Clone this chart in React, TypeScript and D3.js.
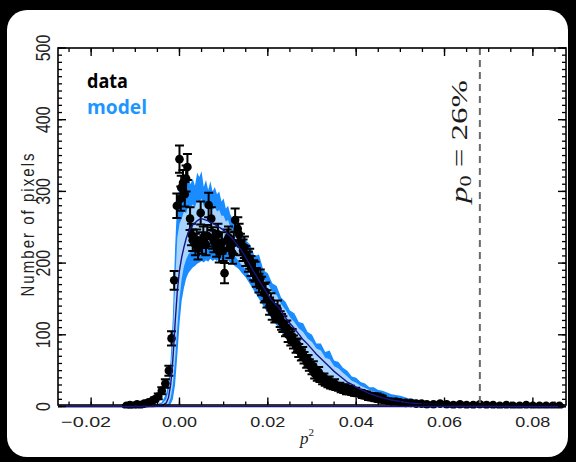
import React from 'react';
import * as d3 from 'd3';

const W = 576;
const H = 462;
const PL = 58, PR = 566, PT = 48, PB = 406.5;

const xDomain = [-0.0275, 0.0875];
const yDomain = [0, 500];
const xMajorTicks = [-0.02, 0, 0.02, 0.04, 0.06, 0.08];
const yMajorTicks = [0, 100, 200, 300, 400, 500];
const p0Value = 0.068;
const p0Label = '26%';

// observed histogram
const dataX = [
  -0.012, -0.0112, -0.0104, -0.0096, -0.0088, -0.008, -0.0072, -0.0064, -0.0056, -0.0048,
  -0.004, -0.0032, -0.0024, -0.0018, -0.0012, -0.0006, 0.0, 0.0004, 0.0008, 0.0012,
  0.0018, 0.0024, 0.003, 0.0036, 0.0042, 0.0048, 0.0054, 0.006, 0.0066, 0.0072,
  0.0078, 0.0084, 0.009, 0.0096, 0.0102, 0.0108, 0.0114, 0.012, 0.0126, 0.0132,
  0.0138, 0.0144, 0.015, 0.0156, 0.0162, 0.0168, 0.0174, 0.018, 0.0186, 0.0192,
  0.0198, 0.0204, 0.021, 0.0216, 0.0222, 0.0228, 0.0234, 0.024, 0.0246, 0.0252,
  0.0258, 0.0264, 0.027, 0.0276, 0.0282, 0.0288, 0.0294, 0.03, 0.0306, 0.0312,
  0.0318, 0.0324, 0.033, 0.0336, 0.0342, 0.0348, 0.0354, 0.036, 0.0366, 0.0372,
  0.0378, 0.0384, 0.039, 0.0396, 0.0402, 0.0408, 0.0414, 0.042, 0.0428, 0.0436,
  0.0444, 0.0452, 0.046, 0.047, 0.048, 0.049, 0.05, 0.0512, 0.0524, 0.0536,
  0.0548, 0.056, 0.0575, 0.059, 0.0605, 0.062, 0.0635, 0.065, 0.0665, 0.068,
  0.0695, 0.071, 0.0725, 0.074, 0.0755, 0.077, 0.0785, 0.08, 0.0815, 0.083,
  0.0845, 0.086,
  0.0003, 0.0015, 0.0027, 0.0039, 0.0051, 0.0063, 0.0075, 0.0087, 0.0099, 0.0111,
  0.0123, 0.0135, 0.0147, 0.0159, 0.0171, 0.0183, 0.0195, 0.0207, 0.0219, 0.0231,
  0.0243, 0.0255, 0.0267, 0.0279, 0.0291, 0.0303, 0.0315, 0.0327, 0.0339, 0.0351,
  0.0363, 0.0375, 0.0387, 0.0399, 0.0411, 0.0423, 0.0435, 0.0447, 0.0459,
];
const dataY = [
  1, 2, 1, 3, 2, 4, 5, 7, 10, 14,
  22, 32, 50, 95, 176, 280, 345, 305, 312, 296,
  334, 262, 232, 226, 220, 270, 236, 226, 281, 262,
  230, 224, 216, 228, 186, 232, 222, 214, 260, 248,
  226, 218, 210, 202, 196, 190, 180, 172, 168, 158,
  150, 140, 132, 128, 136, 122, 115, 108, 100, 95,
  90, 84, 78, 72, 68, 62, 58, 52, 46, 42,
  40, 37, 35, 33, 30, 29, 28, 27, 25, 24,
  22, 22, 20, 19, 19, 18, 16, 15, 13, 12,
  11, 10, 9, 8, 7, 7, 6, 5, 5, 4,
  4, 3, 3, 4, 3, 2, 3, 2, 2, 3,
  2, 2, 1, 2, 1, 1, 2, 1, 1, 1,
  1, 1,
  290, 318, 240, 232, 228, 238, 235, 240, 218, 236,
  228, 240, 222, 206, 188, 178, 160, 146, 130, 118,
  110, 98, 86, 74, 64, 56, 48, 40, 36, 32,
  28, 26, 24, 21, 19, 17, 15, 14, 12,
];
const dataErr = [
  1, 1, 1, 2, 1, 2, 2, 3, 3, 4,
  5, 6, 7, 10, 13, 17, 19, 17, 18, 17,
  18, 16, 15, 15, 15, 16, 15, 15, 17, 16,
  15, 15, 15, 15, 14, 15, 15, 15, 16, 16,
  15, 15, 14, 14, 14, 14, 13, 13, 13, 13,
  12, 12, 11, 11, 12, 11, 11, 10, 10, 10,
  9, 9, 9, 8, 8, 8, 8, 7, 7, 6,
  6, 6, 6, 6, 5, 5, 5, 5, 5, 5,
  5, 5, 4, 4, 4, 4, 4, 4, 4, 3,
  3, 3, 3, 3, 3, 3, 2, 2, 2, 2,
  2, 2, 2, 2, 2, 1, 2, 1, 1, 2,
  1, 1, 1, 1, 1, 1, 1, 1, 1, 1,
  1, 1,
  17, 18, 15, 15, 15, 15, 15, 15, 15, 15,
  15, 15, 15, 14, 14, 13, 13, 12, 11, 11,
  10, 10, 9, 9, 8, 7, 7, 6, 6, 6,
  5, 5, 5, 5, 4, 4, 4, 4, 3,
];

// model distribution
const modelX = [
  -0.0275, -0.006, -0.004, -0.003, -0.0025, -0.002, -0.0015, -0.001, -0.0005, 0,
  0.0005, 0.001, 0.0015, 0.002, 0.0025, 0.003, 0.0035, 0.004, 0.0045, 0.005,
  0.0055, 0.006, 0.0065, 0.007, 0.0075, 0.008, 0.0085, 0.009, 0.0095, 0.01,
  0.0105, 0.011, 0.0115, 0.012, 0.0125, 0.013, 0.0135, 0.014, 0.015, 0.016,
  0.017, 0.018, 0.019, 0.02, 0.021, 0.022, 0.023, 0.024, 0.025, 0.026,
  0.027, 0.028, 0.029, 0.03, 0.031, 0.032, 0.033, 0.034, 0.035, 0.036,
  0.037, 0.038, 0.039, 0.04, 0.041, 0.042, 0.043, 0.044, 0.045, 0.046,
  0.048, 0.05, 0.052, 0.054, 0.056, 0.058, 0.06, 0.065, 0.07, 0.075, 0.0875,
];
const modelMid = [
  0, 0, 1, 5, 12, 30, 65, 115, 160, 190,
  208, 222, 234, 243, 248, 253, 256, 259, 261, 262,
  261, 260, 259, 257, 256, 254, 252, 250, 248, 246,
  243, 240, 237, 234, 230, 226, 222, 218, 208, 197,
  186, 176, 166, 156, 147, 141, 134, 124, 116, 109,
  101, 93, 87, 80, 73, 67, 61, 55, 49, 44,
  39, 34, 31, 27, 24, 21, 18, 16, 14, 12,
  9, 7, 5, 4, 3, 3, 2, 1, 1, 0, 0,
];
const modelLo = [
  0, 0, 0, 0, 1, 3, 10, 30, 70, 115,
  148, 165, 178, 186, 190, 194, 196, 199, 201, 203,
  201, 204, 202, 206, 203, 205, 203, 207, 204, 205,
  202, 204, 200, 199, 196, 194, 191, 187, 180, 170,
  160, 150, 140, 130, 121, 113, 105, 97, 89, 81,
  74, 67, 61, 55, 49, 43, 38, 34, 30, 26,
  23, 20, 18, 16, 14, 12, 10, 9, 7, 6,
  4, 3, 2, 2, 1, 1, 0, 0, 0, 0, 0,
];
const modelHi = [
  0, 1, 6, 18, 35, 65, 125, 220, 290, 305,
  298, 316, 304, 322, 310, 318, 308, 326, 320, 328,
  306, 316, 302, 314, 300, 306, 296, 300, 286, 290,
  276, 280, 268, 262, 256, 250, 246, 240, 232, 226,
  210, 212, 190, 186, 172, 168, 152, 146, 134, 130,
  118, 116, 104, 100, 88, 88, 76, 78, 64, 62,
  54, 50, 42, 40, 34, 32, 27, 27, 23, 22,
  17, 15, 11, 9, 7, 6, 5, 3, 2, 1, 0,
];
const modelInLo = [
  0, 0, 0, 1, 4, 12, 30, 65, 110, 150,
  178, 195, 205, 212, 216, 220, 223, 225, 227, 228,
  227, 228, 228, 229, 228, 228, 227, 226, 225, 224,
  221, 219, 216, 213, 210, 206, 202, 198, 191, 181,
  171, 161, 151, 141, 132, 125, 116, 108, 100, 92,
  84, 76, 70, 63, 57, 51, 46, 41, 36, 32,
  28, 24, 21, 19, 17, 15, 13, 11, 9, 8,
  6, 4, 3, 2, 2, 1, 1, 0, 0, 0, 0,
];
const modelInHi = [
  0, 0, 3, 10, 22, 48, 95, 170, 235, 255,
  262, 272, 270, 280, 276, 282, 278, 288, 285, 290,
  280, 284, 276, 282, 274, 278, 272, 274, 266, 266,
  258, 260, 250, 246, 240, 235, 230, 226, 218, 210,
  196, 194, 178, 172, 160, 155, 143, 135, 125, 118,
  109, 104, 95, 90, 81, 78, 68, 66, 56, 53,
  47, 42, 36, 33, 29, 26, 23, 21, 18, 16,
  12, 10, 7, 6, 5, 4, 3, 2, 1, 1, 0,
];

const x = d3.scaleLinear().domain(xDomain).range([PL, PR]);
const y = d3.scaleLinear().domain(yDomain).range([PB, PT]);

export default function App() {
  const idx = d3.range(modelX.length);
  const outerArea = d3.area<number>()
    .x((i) => x(modelX[i]))
    .y0((i) => y(modelLo[i]))
    .y1((i) => y(modelHi[i]))(idx) || '';
  const innerArea = d3.area<number>()
    .x((i) => x(modelX[i]))
    .y0((i) => y(modelInLo[i]))
    .y1((i) => y(modelInHi[i]))(idx) || '';
  const midLine = d3.line<number>()
    .x((i) => x(modelX[i]))
    .y((i) => y(modelMid[i]))(idx) || '';

  const xMinor = d3.range(-0.025, 0.0851, 0.005);
  const yMinor = d3.range(0, 501, 10);
  const fmt = d3.format('.2f');
  const sans = 'Liberation Sans, Arial, sans-serif';

  return (
    <svg width={W} height={H} style={{ position: 'absolute', left: 0, top: 0, display: 'block' }}>
      <defs>
        <clipPath id="plot">
          <rect x={PL} y={PT} width={PR - PL} height={PB - PT + 2} />
        </clipPath>
      </defs>
      <rect x={0} y={0} width={W} height={H} fill="#000" />
      <rect x={7} y={10} width={561} height={447} rx={20} ry={20} fill="#fff" />

      <g clipPath="url(#plot)">
        <path d={outerArea} fill="#1a8cff" />
        <path d={innerArea} fill="#a8d4ff" />
        {dataX.map((dx, i) => {
          const cx = x(dx);
          const yt = y(dataY[i] + dataErr[i]);
          const yb = y(Math.max(0, dataY[i] - dataErr[i]));
          return (
            <g key={i}>
              <line x1={cx} x2={cx} y1={yt} y2={yb} stroke="#000" strokeWidth={2} />
              <line x1={cx - 4.5} x2={cx + 4.5} y1={yt} y2={yt} stroke="#000" strokeWidth={2} />
              <line x1={cx - 4.5} x2={cx + 4.5} y1={yb} y2={yb} stroke="#000" strokeWidth={2} />
              <circle cx={cx} cy={y(dataY[i])} r={4.3} fill="#000" />
            </g>
          );
        })}
        <path d={midLine} fill="none" stroke="#16167e" strokeWidth={1.4} />
      </g>

      <line x1={x(p0Value)} x2={x(p0Value)} y1={PT} y2={PB - 1} stroke="#6a6a6a" strokeWidth={2} strokeDasharray="7,5" />

      {/* frame */}
      <rect x={PL} y={PT} width={PR - PL} height={PB - 1.5 - PT} fill="none" stroke="#000" strokeWidth={1.6} />
      <line x1={PL} x2={PR} y1={PB} y2={PB} stroke="#16167e" strokeWidth={1.4} />

      {/* x ticks */}
      {xMinor.map((t, i) => (
        <g key={'xm' + i}>
          <line x1={x(t)} x2={x(t)} y1={PB - 1.5} y2={PB - 5} stroke="#000" strokeWidth={1.3} />
          <line x1={x(t)} x2={x(t)} y1={PT} y2={PT + 4} stroke="#000" strokeWidth={1.3} />
        </g>
      ))}
      {xMajorTicks.map((t, i) => (
        <g key={'xM' + i}>
          <line x1={x(t)} x2={x(t)} y1={PB - 1.5} y2={PB - 9} stroke="#000" strokeWidth={1.4} />
          <line x1={x(t)} x2={x(t)} y1={PT} y2={PT + 8} stroke="#000" strokeWidth={1.4} />
          <text
            x={x(t) + (t < 0 ? -5 : 0)}
            y={427}
            textAnchor="middle"
            fontFamily={sans}
            fontSize={15}
            fill="#222"
            textLength={t < 0 ? 50 : 35}
            lengthAdjust="spacingAndGlyphs"
          >
            {fmt(t)}
          </text>
        </g>
      ))}

      {/* y ticks */}
      {yMinor.map((t, i) => (
        <g key={'ym' + i}>
          <line x1={PL} x2={PL + 4} y1={y(t)} y2={y(t)} stroke="#000" strokeWidth={1.3} />
          <line x1={PR} x2={PR - 4} y1={y(t)} y2={y(t)} stroke="#000" strokeWidth={1.3} />
        </g>
      ))}
      {yMajorTicks.map((t, i) => (
        <g key={'yM' + i}>
          <line x1={PL} x2={PL + 8} y1={y(t)} y2={y(t)} stroke="#000" strokeWidth={1.4} />
          <line x1={PR} x2={PR - 8} y1={y(t)} y2={y(t)} stroke="#000" strokeWidth={1.4} />
          <text
            transform={`translate(43,${y(t)}) scale(1.3,1) rotate(-90)`}
            y={5.7}
            textAnchor="middle"
            fontFamily={sans}
            fontSize={16}
            fill="#222"
          >
            {String(t)}
          </text>
        </g>
      ))}

      {/* axis titles */}
      <text
        transform={`translate(28,225) scale(1.25,1) rotate(-90)`}
        y={5}
        textAnchor="middle"
        fontFamily={sans}
        fontSize={15}
        fill="#222"
        textLength={143}
        lengthAdjust="spacing"
      >
        Number of pixels
      </text>
      <text x={307} y={444} textAnchor="middle" fontFamily="Liberation Serif, serif" fontStyle="italic" fontSize={17} fill="#222">
        p<tspan fontSize={11} dy={-8} fontStyle="normal">2</tspan>
      </text>

      {/* legend */}
      <text x={87} y={88} fontFamily="Open Sans, sans-serif" fontWeight={700} fontSize={20} fill="#000" textLength={41} lengthAdjust="spacingAndGlyphs">
        data
      </text>
      <text x={87} y={114} fontFamily="Open Sans, sans-serif" fontWeight={700} fontSize={20} fill="#1e96ff" textLength={60} lengthAdjust="spacingAndGlyphs">
        model
      </text>

      {/* p0 annotation */}
      <text
        transform={`translate(467,${203}) rotate(-90)`}
        fontFamily="Liberation Serif, serif"
        fontSize={24}
        fill="#1a1a1a"
        textLength={123}
        lengthAdjust="spacingAndGlyphs"
      >
        <tspan fontStyle="italic">p</tspan>
        <tspan fontSize={16} dy={4}>0</tspan>
        <tspan dy={-4}>{' = ' + p0Label}</tspan>
      </text>
    </svg>
  );
}
